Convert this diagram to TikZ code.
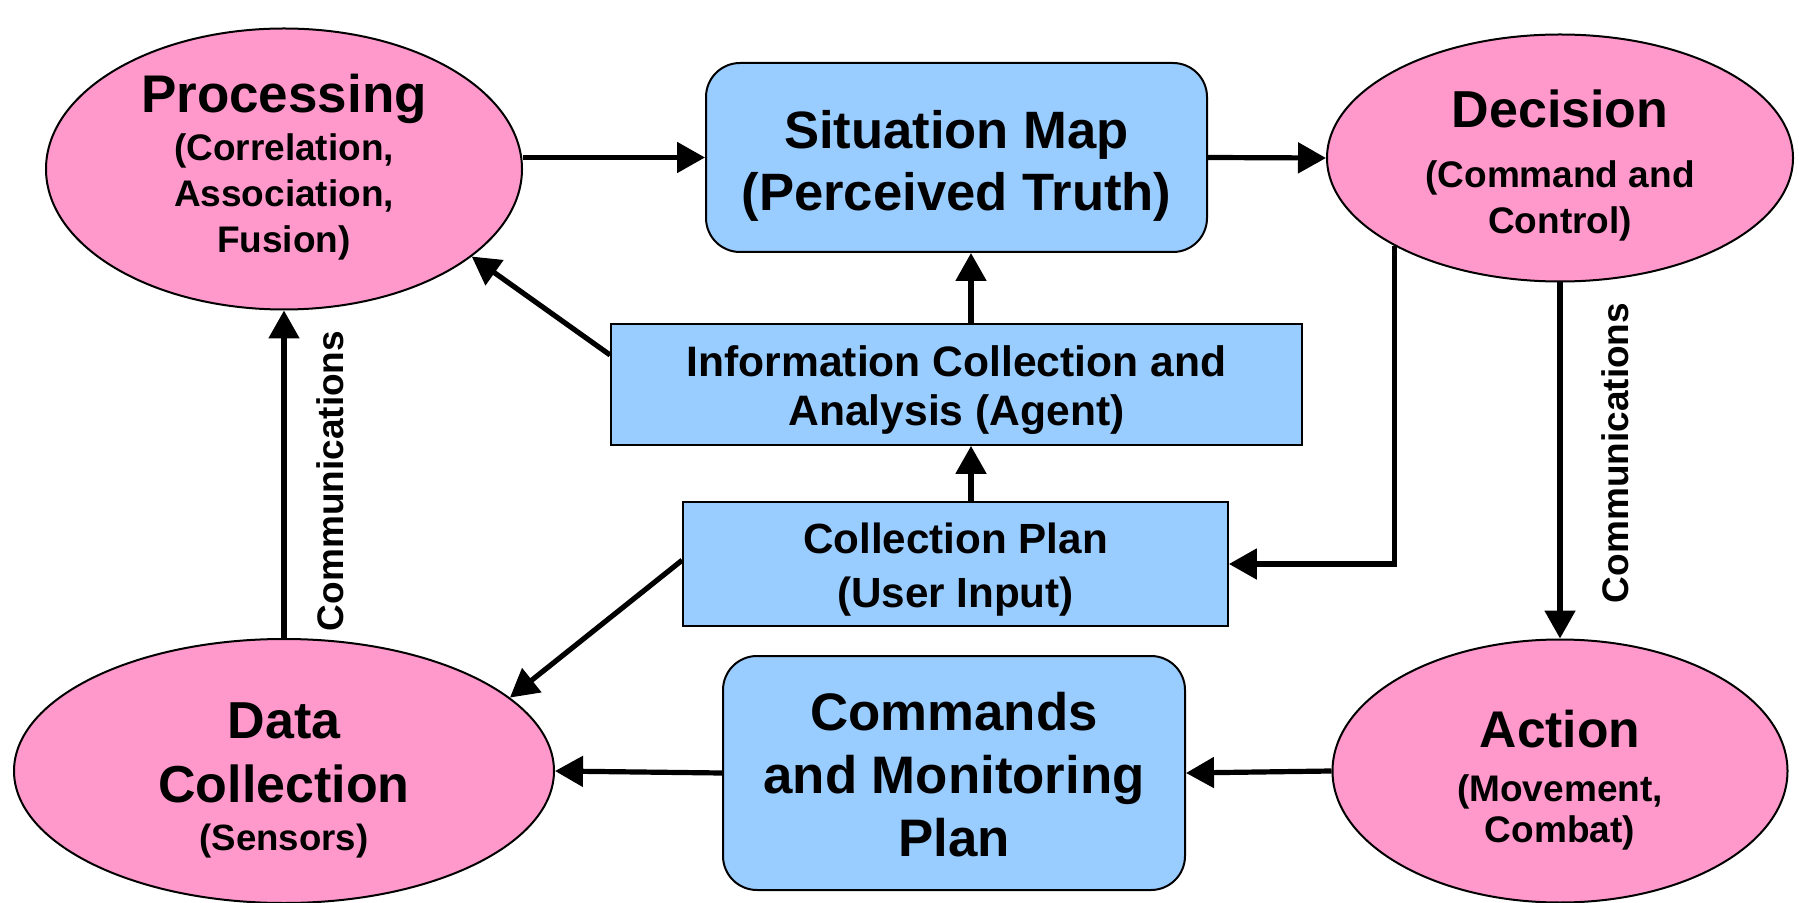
\documentclass[tikz,border=0pt]{standalone}
\usepackage{fontspec}
\setmainfont{Liberation Sans}
\usetikzlibrary{shapes.geometric,arrows.meta,calc}
\definecolor{pinkfill}{HTML}{FF99CC}
\definecolor{bluefill}{HTML}{99CCFF}
\begin{document}
\begin{tikzpicture}[x=0.5pt,y=-0.5pt,
  ell/.style={ellipse,draw=black,line width=1pt,fill=pinkfill,inner sep=0pt},
  rbox/.style={rectangle,rounded corners=17pt,draw=black,line width=1pt,fill=bluefill,inner sep=0pt},
  sbox/.style={rectangle,draw=black,line width=0.9pt,fill=bluefill,inner sep=0pt},
  txt/.style={inner sep=0pt,align=center},
  arr/.style={line width=2.6pt,-{Triangle[length=14pt,width=15pt]}},
  comm/.style={rotate=90,font=\bfseries\fontsize{18.5}{22}\selectfont,inner sep=0pt}
]
\useasboundingbox (0,0) rectangle (1799,903);
\fill[white] (0,0) rectangle (1799,903);

% shapes
\node[ell,minimum width=238pt,minimum height=140.5pt] (proc) at (284,169) {};
\node[rbox,minimum width=250.5pt,minimum height=94.5pt] (sit) at (956.5,157.5) {};
\node[ell,minimum width=233pt,minimum height=123.5pt] (dec) at (1560,158) {};
\node[sbox,minimum width=345.5pt,minimum height=60.5pt] (info) at (956.5,384.5) {};
\node[sbox,minimum width=272.5pt,minimum height=62pt] (cplan) at (955.5,564) {};
\node[ell,minimum width=270pt,minimum height=132pt] (dcol) at (284,771) {};
\node[rbox,minimum width=231pt,minimum height=117pt] (cmd) at (954,773) {};
\node[ell,minimum width=227.5pt,minimum height=131.5pt] (act) at (1560,771) {};

% texts
\node[txt,font=\bfseries\fontsize{18.5}{23}\selectfont] (procT) at ($(proc)+(0,-2)$)
  {{\fontsize{26.5}{26.5}\selectfont Processing}\\[1.3pt](Correlation,\\Association,\\Fusion)};
\node[txt,font=\bfseries\fontsize{26.3}{31}\selectfont] (sitT) at ($(sit)+(0,8)$)
  {Situation Map\\(Perceived Truth)};
\node[txt,font=\bfseries\fontsize{18.5}{23}\selectfont] (decT) at ($(dec)+(0,7.5)$)
  {{\fontsize{26}{26}\selectfont Decision}\\[7.3pt](Command and\\Control)};
\node[txt,font=\bfseries\fontsize{21.3}{24.5}\selectfont] (infoT) at ($(info)+(0,6)$)
  {Information Collection and\\Analysis (Agent)};
\node[txt,font=\bfseries\fontsize{21.1}{27}\selectfont] (cplanT) at ($(cplan)+(0,6)$)
  {Collection Plan\\(User Input)};
\node[txt,font=\bfseries\fontsize{26}{32}\selectfont] (dcolT) at ($(dcol)+(0,9)$)
  {Data\\Collection\\[-8pt]{\fontsize{18.3}{18.3}\selectfont (Sensors)}};
\node[txt,font=\bfseries\fontsize{26.4}{31.5}\selectfont] (cmdT) at ($(cmd)+(0,2)$)
  {Commands\\and Monitoring\\Plan};
\node[txt,font=\bfseries\fontsize{18.5}{20.5}\selectfont] (actT) at ($(act)+(0,9)$)
  {{\fontsize{25.8}{25.8}\selectfont Action}\\[6.3pt](Movement,\\Combat)};

\node[comm] (commL) at (330,481) {Communications};
\node[comm] (commR) at (1615,453) {Communications};

\coordinate (ax) at (971,0);

% connectors
\draw[arr] (proc.east |- sit.west) -- (sit.west);
\draw[arr] (sit.east) -- (dec.west);
\draw[arr] (info.north -| ax) -- (sit.south -| ax);
\draw[arr] ($(info.north west)!0.26!(info.south west)$) -- (proc.-25);
\draw[arr] (cplan.north -| ax) -- (info.south -| ax);
\draw[arr] (dec.-152) |- (cplan.east);
\draw[arr] (dec.south) -- (act.north);
\draw[arr] (dcol.north) -- (proc.south);
\draw[arr] ($(cplan.north west)!0.47!(cplan.south west)$) -- (dcol.18);
\draw[arr] (cmd.west) -- (dcol.east);
\draw[arr] (act.west) -- (cmd.east);
\end{tikzpicture}
\end{document}
